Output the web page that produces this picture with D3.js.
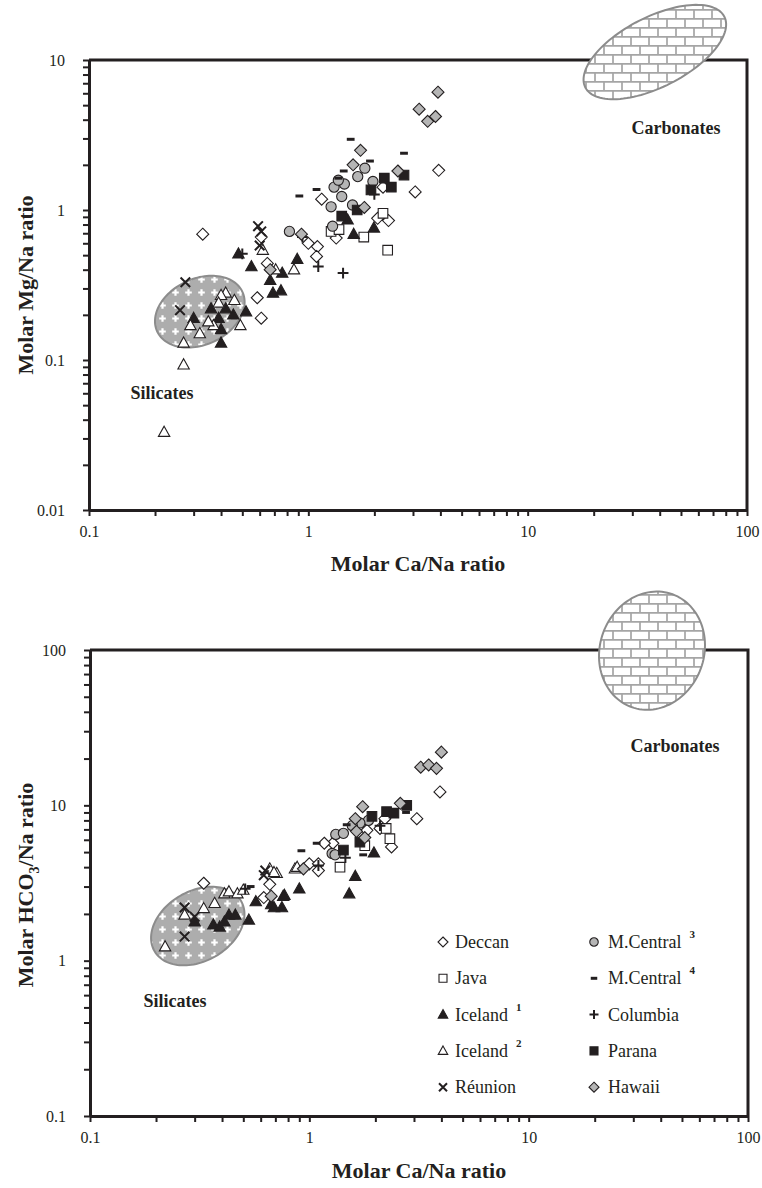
<!DOCTYPE html>
<html lang="en">
<head>
<meta charset="utf-8">
<script src="https://cdn.jsdelivr.net/npm/d3@7"></script>
<style>
  body { margin: 0; background: #fff; }
  text { font-family: "Liberation Serif", "Times New Roman", serif; fill: #231f20; }
</style>
</head>
<body>
<div id="chart"></div>

<script>
    // tick labels
    var xTickLabels = ["0.1", "1", "10", "100"];
    var yTickLabelsMg = ["0.01", "0.1", "1", "10"];
    var yTickLabelsHCO3 = ["0.1", "1", "10", "100"];

    // ---- Mg/Na vs Ca/Na (top panel), [Ca/Na, Mg/Na]
    var deccanMg = [[3.93,1.84],[2.19,1.42],[3.07,1.32],[1.15,1.18],[2.07,0.88],[2.32,0.85],[1.34,0.65],[1.0,0.6],
        [1.1,0.57],[1.09,0.49],[0.585,0.26],[0.33,0.69],[0.61,0.66],[0.61,0.19],[0.65,0.44]];
    var javaMg = [[2.19,0.95],[1.79,0.66],[1.27,0.72],[1.38,0.74],[2.3,0.54]];
    var iceland1Mg = [[1.51,0.86],[1.99,0.76],[1.61,0.69],[0.89,0.47],[0.55,0.42],[0.76,0.38],[0.67,0.34],[0.69,0.28],
        [0.75,0.29],[0.48,0.51],[0.36,0.22],[0.42,0.22],[0.39,0.19],[0.455,0.2],[0.52,0.21],[0.3,0.19],[0.4,0.16],[0.4,0.13]];
    var iceland2Mg = [[0.42,0.28],[0.4,0.27],[0.46,0.25],[0.39,0.24],[0.29,0.17],[0.32,0.15],[0.37,0.17],[0.35,0.18],
        [0.49,0.17],[0.27,0.13],[0.27,0.093],[0.22,0.033],[0.62,0.54],[0.86,0.40],[0.71,0.40]];
    var reunionMg = [[0.59,0.78],[0.61,0.72],[0.6,0.58],[0.275,0.33],[0.26,0.215]];
    var mcentral3Mg = [[1.81,1.9],[1.68,1.67],[1.97,1.55],[1.31,1.42],[1.46,1.49],[1.42,1.23],[1.27,1.05],[1.59,1.08],
        [1.29,0.78],[0.82,0.72],[1.37,1.58]];
    var mcentral4Mg = [[1.56,2.96],[2.73,2.39],[1.91,2.12],[1.45,1.82],[1.37,1.63],[1.09,1.37],[0.91,1.24]];
    var columbiaMg = [[2.0,1.27],[0.94,0.66],[1.11,0.42],[1.44,0.38],[0.5,0.51]];
    var paranaMg = [[2.73,1.71],[2.22,1.63],[2.39,1.42],[1.93,1.36],[1.67,1.0],[1.42,0.91]];
    var hawaiiMg = [[3.9,6.1],[3.2,4.7],[3.5,3.9],[3.8,4.2],[1.73,2.5],[1.6,2.0],[2.56,1.82],[1.8,1.04],[0.93,0.69],[0.67,0.40]];

    // ---- HCO3/Na vs Ca/Na (bottom panel), [Ca/Na, HCO3/Na]
    var deccanHCO3 = [[3.94,12.2],[3.09,8.2],[2.21,8.2],[1.83,6.9],[2.1,7.1],[2.37,5.4],[1.28,5.7],[1.17,5.7],[1.0,4.2],
        [1.1,4.2],[1.1,3.8],[0.66,3.1],[0.62,2.55],[0.33,3.15]];
    var javaHCO3 = [[1.38,4.0],[1.79,5.5],[2.24,7.1],[2.33,6.1]];
    var iceland1HCO3 = [[1.97,4.95],[1.62,3.5],[1.52,2.7],[0.9,2.9],[0.76,2.6],[0.67,2.3],[0.75,2.2],[0.57,2.4],[0.3,1.78],
        [0.365,1.7],[0.39,1.65],[0.41,1.78],[0.43,1.97],[0.46,1.97],[0.53,1.83],[0.77,2.64],[0.69,2.2]];
    var iceland2HCO3 = [[0.86,3.9],[0.71,3.65],[0.66,3.9],[0.27,1.97],[0.33,2.17],[0.37,2.34],[0.41,2.7],[0.43,2.78],
        [0.47,2.7],[0.5,2.85],[0.22,1.23],[0.69,3.7],[0.88,4.0]];
    var reunionHCO3 = [[0.27,2.2],[0.3,1.92],[0.27,1.43],[0.63,3.8],[0.62,3.55]];
    var mcentral3HCO3 = [[1.86,8.0],[1.7,7.7],[1.32,6.5],[1.43,6.6],[1.27,4.9],[1.31,4.8],[1.57,7.4]];
    var mcentral4HCO3 = [[2.76,9.0],[1.48,7.5],[1.08,5.7],[1.76,4.8],[0.92,5.1],[0.54,3.0]];
    var columbiaHCO3 = [[1.46,4.6],[1.1,4.1],[0.51,2.9],[2.1,7.4]];
    var paranaHCO3 = [[2.78,10],[2.25,9.1],[2.43,8.9],[1.93,8.5],[1.7,5.8],[1.43,5.15]];
    var hawaiiHCO3 = [[4.0,22],[3.22,17.6],[3.5,18.2],[3.8,17.3],[1.75,9.8],[2.6,10.3],[1.62,8.2],[1.64,6.8],[1.79,6.2],
        [0.94,3.9],[0.67,2.6]];

    var ink = "#231f20", gray = "#b5b5b5";

    var series = [
        {label: "Deccan",    sup: "",  shape: "diamond",  fill: "#fff", mg: deccanMg,    hco3: deccanHCO3},
        {label: "Java",      sup: "",  shape: "square",   fill: "#fff", mg: javaMg,      hco3: javaHCO3},
        {label: "Iceland",   sup: "1", shape: "triangle", fill: ink,    mg: iceland1Mg,  hco3: iceland1HCO3},
        {label: "Iceland",   sup: "2", shape: "triangle", fill: "#fff", mg: iceland2Mg,  hco3: iceland2HCO3},
        {label: "Réunion",   sup: "",  shape: "cross",    fill: "none", mg: reunionMg,   hco3: reunionHCO3},
        {label: "M.Central", sup: "3", shape: "circle",   fill: gray,   mg: mcentral3Mg, hco3: mcentral3HCO3},
        {label: "M.Central", sup: "4", shape: "dash",     fill: ink,    mg: mcentral4Mg, hco3: mcentral4HCO3},
        {label: "Columbia",  sup: "",  shape: "plus",     fill: "none", mg: columbiaMg,  hco3: columbiaHCO3},
        {label: "Parana",    sup: "",  shape: "square",   fill: ink,    mg: paranaMg,    hco3: paranaHCO3},
        {label: "Hawaii",    sup: "",  shape: "diamond",  fill: gray,   mg: hawaiiMg,    hco3: hawaiiHCO3}
    ];

    function markerPath(shape, r) {
        var s = r * 0.8, c = r * 0.85, k = r * 0.8, p = r * 0.9;
        switch (shape) {
            case "diamond": return "M0," + (-r) + "L" + r + ",0L0," + r + "L" + (-r) + ",0Z";
            case "square": return "M" + (-s) + "," + (-s) + "h" + 2*s + "v" + 2*s + "h" + (-2*s) + "Z";
            case "triangle": return "M0," + (-r) + "L" + (r*0.95) + "," + (r*0.7) + "L" + (-r*0.95) + "," + (r*0.7) + "Z";
            case "circle": return "M" + c + ",0A" + c + "," + c + " 0 1,1 " + (-c) + ",0A" + c + "," + c + " 0 1,1 " + c + ",0Z";
            case "cross": return "M" + (-k) + "," + (-k) + "L" + k + "," + k + "M" + (-k) + "," + k + "L" + k + "," + (-k);
            case "plus": return "M" + (-p) + ",0H" + p + "M0," + (-p) + "V" + p;
            case "dash": return "M" + (-r*0.65) + ",-1.5h" + (1.3*r) + "v3h" + (-1.3*r) + "Z";
        }
    }

    function styleMarker(sel, d) {
        var open = d.shape === "cross" || d.shape === "plus";
        sel.attr("fill", open ? "none" : d.fill)
           .attr("stroke", ink)
           .attr("stroke-width", open ? 2 : (d.shape === "dash" ? 0 : 1.1));
    }

    function ellipsePath(cx, cy, rx, ry, deg) {
        var a = deg * Math.PI / 180;
        var pts = d3.range(0, 361, 3).map(function(t) {
            var u = t * Math.PI / 180, ex = rx * Math.cos(u), ey = ry * Math.sin(u);
            return [cx + ex * Math.cos(a) - ey * Math.sin(a), cy + ex * Math.sin(a) + ey * Math.cos(a)];
        });
        return d3.line()(pts) + "Z";
    }

    var W = 762, H = 1188;
    var svg = d3.select("#chart").append("svg").attr("width", W).attr("height", H);

    var defs = svg.append("defs");
    var pl = defs.append("pattern").attr("id", "plusfill").attr("patternUnits", "userSpaceOnUse")
        .attr("width", 13).attr("height", 13);
    pl.append("rect").attr("width", 13).attr("height", 13).attr("fill", "#adadad");
    pl.append("path").attr("d", "M6.5,3.2V9.8M3.2,6.5H9.8").attr("stroke", "#fff").attr("stroke-width", 2.2);

    var br = defs.append("pattern").attr("id", "brick").attr("patternUnits", "userSpaceOnUse")
        .attr("width", 18).attr("height", 18);
    br.append("rect").attr("width", 18).attr("height", 18).attr("fill", "#fff");
    br.append("path").attr("d", "M0,0.8H18M0,9.8H18M1,0V9.8M10,9.8V18")
        .attr("stroke", "#a5a5a5").attr("stroke-width", 1.7).attr("fill", "none");

    function decadeLabel(labels, lo) {
        return function(d) {
            var e = Math.log10(d), r = Math.round(e);
            return Math.abs(e - r) < 1e-6 ? labels[r - lo] : "";
        };
    }
    function logTicks(lo, hi) {
        var t = [];
        for (var e = lo; e < hi; e++) for (var m = 1; m < 10; m++) t.push(m * Math.pow(10, e));
        t.push(Math.pow(10, hi));
        return t;
    }

    function panel(cfg) {
        var x = d3.scaleLog().domain([0.1, 100]).range([cfg.left, cfg.right]);
        var y = d3.scaleLog().domain(cfg.yDomain).range([cfg.bottom, cfg.top]);
        var g = svg.append("g");

        // silicates field
        var sc = cfg.sil;
        g.append("path").attr("d", ellipsePath(x(sc.c[0]), y(sc.c[1]), sc.rx, sc.ry, sc.rot))
            .attr("fill", "url(#plusfill)").attr("stroke", "#8c8c8c").attr("stroke-width", 2);

        // frame
        g.append("path")
            .attr("d", "M" + cfg.left + "," + cfg.top + "H" + cfg.right + "V" + cfg.bottom)
            .attr("fill", "none").attr("stroke", ink).attr("stroke-width", 3);

        var xAxis = g.append("g").attr("transform", "translate(0," + cfg.bottom + ")")
            .call(d3.axisBottom(x).tickValues(logTicks(-1, 2)).tickSize(6).tickSizeOuter(0).tickPadding(10)
                .tickFormat(decadeLabel(xTickLabels, -1)));
        var yAxis = g.append("g").attr("transform", "translate(" + cfg.left + ",0)")
            .call(d3.axisLeft(y).tickValues(logTicks(cfg.yLo, cfg.yLo + 3)).tickSize(6).tickSizeOuter(0).tickPadding(18)
                .tickFormat(decadeLabel(cfg.yLabels, cfg.yLo)));
        [xAxis, yAxis].forEach(function(a) {
            a.select(".domain").attr("stroke", ink).attr("stroke-width", 3);
            a.selectAll(".tick line").attr("stroke", ink).attr("stroke-width", 2);
            a.selectAll(".tick text").attr("font-size", 16).attr("font-family", "Liberation Serif").attr("fill", ink);
        });

        // points
        series.forEach(function(s) {
            g.append("g").selectAll("path").data(s[cfg.key]).enter().append("path")
                .attr("transform", function(d) { return "translate(" + x(d[0]) + "," + y(d[1]) + ")"; })
                .attr("d", markerPath(s.shape, 6))
                .call(styleMarker, s);
        });

        // carbonates field
        var cc = cfg.carb;
        g.append("path").attr("d", ellipsePath(x(cc.c[0]), y(cc.c[1]), cc.rx, cc.ry, cc.rot))
            .attr("fill", "url(#brick)").attr("stroke", "#8c8c8c").attr("stroke-width", 2);

        g.append("text").attr("x", cfg.carbLabel[0]).attr("y", cfg.carbLabel[1]).attr("text-anchor", "middle")
            .attr("font-size", 18).attr("font-weight", "bold").text("Carbonates");
        g.append("text").attr("x", cfg.silLabel[0]).attr("y", cfg.silLabel[1]).attr("text-anchor", "middle")
            .attr("font-size", 18).attr("font-weight", "bold").text("Silicates");

        // axis titles
        g.append("text").attr("x", (cfg.left + cfg.right) / 2).attr("y", cfg.xTitleY).attr("text-anchor", "middle")
            .attr("font-size", 22).attr("font-weight", "bold").text("Molar Ca/Na ratio");
        var yt = g.append("text").attr("transform", "translate(33," + cfg.yTitleY + ") rotate(-90)")
            .attr("text-anchor", "middle").attr("font-size", 22).attr("font-weight", "bold");
        cfg.yTitle(yt);
        return {x: x, y: y};
    }

    panel({
        key: "mg", left: 89, right: 747, top: 60, bottom: 510,
        yDomain: [0.01, 10], yLo: -2, yLabels: yTickLabelsMg,
        sil: {c: [0.32, 0.21], rx: 47, ry: 33, rot: -25},
        carb: {c: [38, 11.3], rx: 78, ry: 35, rot: -27},
        carbLabel: [676, 134], silLabel: [162, 399],
        xTitleY: 571, yTitleY: 285,
        yTitle: function(t) { t.text("Molar Mg/Na ratio"); }
    });

    panel({
        key: "hco3", left: 90, right: 748, top: 650, bottom: 1116,
        yDomain: [0.1, 100], yLo: -1, yLabels: yTickLabelsHCO3,
        sil: {c: [0.31, 1.67], rx: 50, ry: 35, rot: -30},
        carb: {c: [36.5, 99], rx: 52, ry: 60, rot: 20},
        carbLabel: [675, 752], silLabel: [175, 1007],
        xTitleY: 1178, yTitleY: 885,
        yTitle: function(t) {
            t.append("tspan").text("Molar HCO");
            t.append("tspan").attr("font-size", 14).attr("dy", 6).text("3");
            t.append("tspan").attr("dy", -6).text("/Na ratio");
        }
    });

    // legend, two columns of five
    var legend = svg.append("g");
    series.forEach(function(s, i) {
        var col = Math.floor(i / 5), row = i % 5;
        var mx = col ? 594 : 443, tx = col ? 608 : 455, yy = 942 + row * 36.3;
        legend.append("path").attr("transform", "translate(" + mx + "," + yy + ")")
            .attr("d", markerPath(s.shape, 5)).call(styleMarker, s);
        var t = legend.append("text").attr("x", tx).attr("y", yy + 6).attr("font-size", 18).text(s.label);
        if (s.sup) {
            t.append("tspan").attr("dx", 8).attr("dy", -10).attr("font-size", 11).attr("font-weight", "bold").text(s.sup);
        }
    });
</script>
</body>
</html>
